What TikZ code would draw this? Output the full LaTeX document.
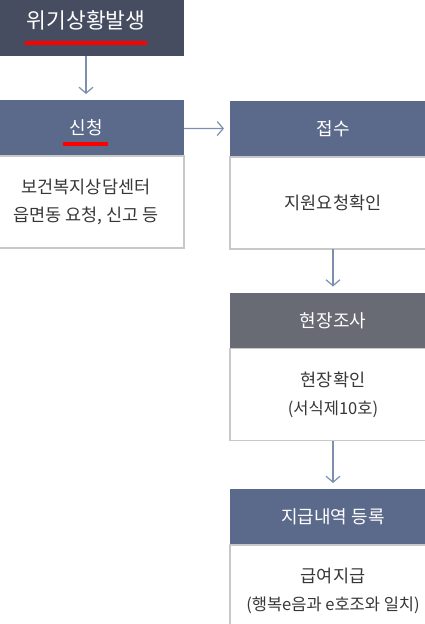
\documentclass[tikz,border=0pt]{standalone}
\usepackage{fontspec}
\setmainfont{Noto Sans CJK KR}
\usetikzlibrary{positioning,arrows.meta}
\definecolor{crisisbg}{RGB}{71,77,97}
\definecolor{headbg}{RGB}{91,106,139}
\definecolor{surveybg}{RGB}{104,107,116}
\definecolor{edgegray}{RGB}{200,200,200}
\definecolor{bodytext}{RGB}{55,55,55}
\definecolor{arrowblue}{RGB}{125,143,176}

\begin{document}
\begin{tikzpicture}[x=1pt, y=1pt,
    head/.style={rectangle, fill=headbg, text=white, minimum width=206pt, minimum height=56pt, inner sep=0pt, outer sep=0pt, font=\fontsize{18}{21}\selectfont},
    body/.style={rectangle, draw=edgegray, line width=1.5pt, fill=white, text=bodytext, minimum width=206pt, minimum height=92pt, inner sep=0pt, outer sep=0pt, align=center, font=\fontsize{17.5}{28}\selectfont},
    flow/.style={-{Straight Barb[length=6pt,width=14pt]}, draw=arrowblue, line width=1.2pt, shorten >=6pt},
    redbar/.style={draw=red, line width=3.5pt}]
        \path[use as bounding box, clip] (0,0) rectangle (425,-624);

        % Nodes
        \node (crisis) [head, fill=crisisbg, minimum width=196pt, minimum height=72pt, font=\fontsize{21.5}{25}\selectfont] at (86,-20) {위기상황발생};
        \node (apply) [head, minimum width=196pt] at (86,-128) {신청};
        \node (applybody) [body, minimum width=196pt, below=0pt of apply] {보건복지상담센터\\읍면동 요청, 신고 등};
        \node (receive) [head] at (333,-129) {접수};
        \node (receivebody) [body, below=0pt of receive] {지원요청확인};
        \node (survey) [head, fill=surveybg] at (333,-320.5) {현장조사};
        \node (surveybody) [body, below=0pt of survey] {현장확인\\{\fontsize{16.5}{28}\selectfont (서식제10호)}};
        \node (pay) [head] at (333,-517) {지급내역 등록};
        \node (paybody) [body, below=0pt of pay] {급여지급\\{\fontsize{16.5}{28}\selectfont (행복e음과 e호조와 일치)}};

        % Underlines
        \draw[redbar] ([xshift=-61pt,yshift=-23pt]crisis.center) -- ++(122pt,0);
        \draw[redbar] ([xshift=-23pt,yshift=-16pt]apply.center) -- ++(45pt,0);

        % Edges
        \draw[flow] (crisis) -- (apply);
        \draw[flow] (apply) -- (receive);
        \draw[flow] (receivebody) -- (survey);
        \draw[flow] (surveybody) -- (pay);
    \end{tikzpicture}
\end{document}
